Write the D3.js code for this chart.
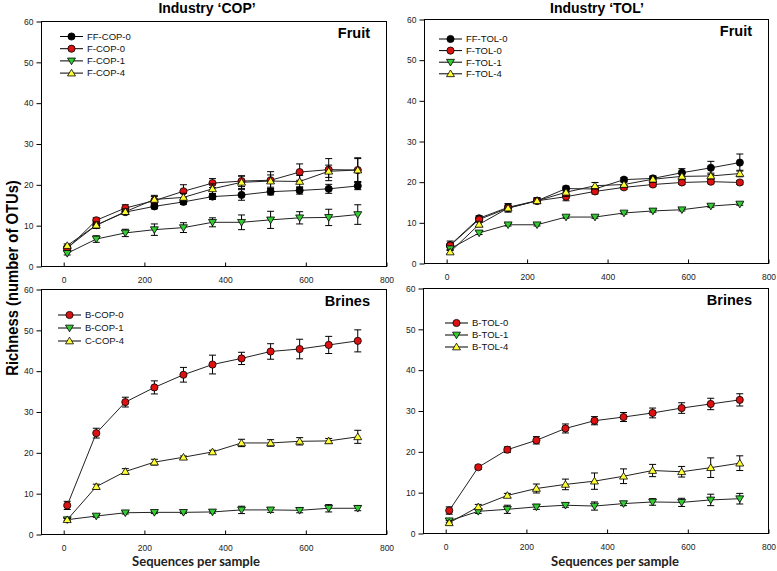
<!DOCTYPE html>
<html><head><meta charset="utf-8">
<script src="https://cdn.jsdelivr.net/npm/d3@7"></script>
<style>
body{margin:0;background:#fff;}
svg{display:block;font-family:Arial,"Liberation Sans",sans-serif;}
</style></head>
<body><svg id="c" width="777" height="571"></svg>
<script>
// ---- data ----
const seqs = [10, 82, 154, 226, 298, 370, 442, 514, 586, 658, 730];
const xTicks = [0, 200, 400, 600, 800];
const yTicks = [0, 10, 20, 30, 40, 50, 60];
const panelTitles = ["Industry \u2018COP\u2019", "Industry \u2018TOL\u2019"];
const panelTags = ["Fruit", "Fruit", "Brines", "Brines"];

// COP fruit
const ffCop0 = [4.5, 10.0, 13.2, 14.6, 15.7, 17.0, 17.4, 18.2, 18.5, 18.9, 19.6];
const ffCop0Err = [0.3, 0.5, 0.5, 0.6, 0.6, 0.7, 1.3, 0.8, 0.9, 1.1, 0.9];
const fCop0 = [4.2, 11.2, 14.2, 16.0, 18.3, 20.3, 20.8, 21.0, 23.0, 23.6, 23.5];
const fCop0Err = [0.5, 0.6, 0.8, 1.0, 1.6, 1.1, 1.3, 2.1, 2.0, 2.7, 3.0];
const fCop1 = [3.1, 6.6, 8.1, 8.9, 9.4, 10.7, 10.7, 11.3, 11.8, 11.9, 12.6];
const fCop1Err = [0.4, 0.8, 0.9, 1.4, 1.2, 1.1, 1.8, 2.1, 1.5, 2.0, 2.4];
const fCop4 = [5.0, 10.0, 13.3, 16.3, 16.8, 18.9, 20.5, 20.8, 20.7, 23.2, 23.5];
const fCop4Err = [0.4, 0.8, 0.7, 1.0, 1.0, 1.2, 1.5, 1.5, 1.5, 1.5, 2.8];

// TOL fruit
const ffTol0 = [4.4, 11.0, 13.7, 15.3, 18.3, 18.2, 20.5, 20.8, 22.2, 23.4, 24.7];
const ffTol0Err = [1.0, 0.6, 0.9, 0.7, 0.6, 0.6, 0.5, 0.6, 1.0, 1.6, 2.1];
const fTol0 = [4.3, 10.7, 13.5, 15.3, 16.3, 17.6, 18.6, 19.3, 19.8, 20.0, 19.8];
const fTol0Err = [0.4, 0.5, 0.6, 0.6, 1.0, 0.6, 0.5, 0.5, 0.5, 0.5, 0.5];
const fTol1 = [3.5, 7.4, 9.4, 9.4, 11.3, 11.3, 12.3, 12.8, 13.1, 14.0, 14.5];
const fTol1Err = [0.3, 0.4, 0.3, 0.3, 0.3, 0.3, 0.3, 0.3, 0.3, 0.3, 0.3];
const fTol4 = [2.7, 9.5, 13.5, 15.3, 17.4, 19.0, 19.3, 20.6, 21.3, 21.4, 22.0];
const fTol4Err = [0.4, 0.6, 1.0, 0.7, 1.0, 0.8, 0.6, 0.7, 0.8, 0.7, 0.8];

// COP brines
const bCop0 = [7.0, 24.7, 32.3, 35.9, 39.0, 41.5, 43.0, 44.7, 45.3, 46.3, 47.3];
const bCop0Err = [1.0, 1.2, 1.2, 1.6, 1.8, 2.3, 1.5, 1.9, 2.4, 2.1, 2.7];
const bCop1 = [3.5, 4.4, 5.2, 5.3, 5.3, 5.4, 5.9, 5.9, 5.8, 6.3, 6.3];
const bCop1Err = [0.3, 0.3, 0.3, 0.3, 0.3, 0.3, 0.9, 0.6, 0.6, 0.9, 0.6];
const cCop4 = [3.5, 11.6, 15.3, 17.6, 18.8, 20.1, 22.3, 22.3, 22.7, 22.8, 23.8];
const cCop4Err = [0.3, 0.6, 0.7, 0.7, 0.3, 0.4, 0.9, 0.8, 0.9, 0.6, 1.6];

// TOL brines
const bTol0 = [5.5, 16.1, 20.4, 22.7, 25.6, 27.5, 28.4, 29.4, 30.6, 31.6, 32.6];
const bTol0Err = [0.9, 0.5, 0.7, 0.9, 1.1, 1.0, 1.1, 1.2, 1.3, 1.4, 1.5];
const bTol1 = [3.0, 5.3, 5.8, 6.4, 6.8, 6.6, 7.2, 7.6, 7.5, 8.1, 8.4];
const bTol1Err = [0.5, 0.5, 1.0, 0.6, 0.5, 1.0, 0.5, 0.8, 1.0, 1.4, 1.3];
const bTol4 = [2.5, 6.4, 9.2, 10.9, 11.9, 12.7, 13.9, 15.3, 15.0, 16.0, 17.1];
const bTol4Err = [0.5, 0.6, 0.5, 1.1, 1.3, 2.0, 1.8, 1.5, 1.3, 2.4, 1.8];

// ---- styles ----
const styles = {
  black: {fill: "#000000", shape: "circle"},
  red: {fill: "#dd1111", shape: "circle"},
  green: {fill: "#33cc33", shape: "down"},
  yellow: {fill: "#ffff33", shape: "up"}
};

const panels = [
  {box: [41, 386, 21, 266], tag: panelTags[0], legend: [60, 36.5, 12.2], series: [
    {name: "FF-COP-0", v: ffCop0, e: ffCop0Err, s: "black"},
    {name: "F-COP-0", v: fCop0, e: fCop0Err, s: "red"},
    {name: "F-COP-1", v: fCop1, e: fCop1Err, s: "green"},
    {name: "F-COP-4", v: fCop4, e: fCop4Err, s: "yellow"}]},
  {box: [424, 768, 19, 263], tag: panelTags[1], legend: [439, 39, 11.6], series: [
    {name: "FF-TOL-0", v: ffTol0, e: ffTol0Err, s: "black"},
    {name: "F-TOL-0", v: fTol0, e: fTol0Err, s: "red"},
    {name: "F-TOL-1", v: fTol1, e: fTol1Err, s: "green"},
    {name: "F-TOL-4", v: fTol4, e: fTol4Err, s: "yellow"}]},
  {box: [41, 386, 289, 534], tag: panelTags[2], legend: [58, 315, 13], series: [
    {name: "B-COP-0", v: bCop0, e: bCop0Err, s: "red"},
    {name: "B-COP-1", v: bCop1, e: bCop1Err, s: "green"},
    {name: "C-COP-4", v: cCop4, e: cCop4Err, s: "yellow"}]},
  {box: [423, 768, 288, 533], tag: panelTags[3], legend: [445, 323, 12], series: [
    {name: "B-TOL-0", v: bTol0, e: bTol0Err, s: "red"},
    {name: "B-TOL-1", v: bTol1, e: bTol1Err, s: "green"},
    {name: "B-TOL-4", v: bTol4, e: bTol4Err, s: "yellow"}]}
];

const svg = d3.select("#c");

function marker(g, cx, cy, st) {
  const s = styles[st];
  if (s.shape === "circle") {
    g.append("circle").attr("cx", cx).attr("cy", cy).attr("r", 3.6)
      .attr("fill", s.fill).attr("stroke", "#000").attr("stroke-width", 0.8);
  } else {
    const h = 3.8;
    const pts = s.shape === "up"
      ? [[cx, cy - h], [cx + h * 1.05, cy + h * 0.75], [cx - h * 1.05, cy + h * 0.75]]
      : [[cx, cy + h], [cx + h * 1.05, cy - h * 0.75], [cx - h * 1.05, cy - h * 0.75]];
    g.append("polygon").attr("points", pts.map(p => p.join(",")).join(" "))
      .attr("fill", s.fill).attr("stroke", "#000").attr("stroke-width", 0.8);
  }
}

panels.forEach((p, i) => {
  const [l, r, t, b] = p.box;
  const x = d3.scaleLinear().domain([-55, 800]).range([l, r]);
  const y = d3.scaleLinear().domain([0, 60]).range([b, t]);
  const g = svg.append("g");

  // frame
  g.append("rect").attr("x", l + 0.5).attr("y", t + 0.5).attr("width", r - l).attr("height", b - t)
    .attr("fill", "none").attr("stroke", "#000").attr("stroke-width", 1);

  // axes
  const ya = g.append("g").attr("transform", `translate(${l + 0.5},0.5)`)
    .call(d3.axisLeft(y).tickValues(yTicks).tickSize(5).tickPadding(3));
  const xa = g.append("g").attr("transform", `translate(0.5,${b + 0.5})`)
    .call(d3.axisBottom(x).tickValues(xTicks).tickSize(-4).tickPadding(10));
  [ya, xa].forEach(a => {
    a.select(".domain").remove();
    a.selectAll("text").attr("font-size", 8.5).attr("fill", "#222")
      .attr("font-family", "Arial, 'Liberation Sans', sans-serif");
    a.selectAll("line").attr("stroke", "#000");
  });

  // series
  const line = d3.line().x((d, k) => x(seqs[k])).y(d => y(d));
  p.series.forEach(s => {
    const sg = g.append("g");
    s.v.forEach((v, k) => {
      const cx = x(seqs[k]);
      const y1 = y(v + s.e[k]), y2 = y(v - s.e[k]);
      sg.append("line").attr("x1", cx).attr("x2", cx).attr("y1", y1).attr("y2", y2)
        .attr("stroke", "#000").attr("stroke-width", 1);
      [y1, y2].forEach(yy => sg.append("line").attr("x1", cx - 3.5).attr("x2", cx + 3.5)
        .attr("y1", yy).attr("y2", yy).attr("stroke", "#000").attr("stroke-width", 1));
    });
    sg.append("path").datum(s.v).attr("d", line).attr("fill", "none")
      .attr("stroke", "#222").attr("stroke-width", 1);
    s.v.forEach((v, k) => marker(sg, x(seqs[k]), y(v), s.s));
  });

  // legend
  const [lx, ly, dy] = p.legend;
  p.series.forEach((s, k) => {
    const yy = ly + k * dy;
    g.append("line").attr("x1", lx).attr("x2", lx + 23).attr("y1", yy).attr("y2", yy)
      .attr("stroke", "#000").attr("stroke-width", 1);
    marker(g, lx + 11.5, yy, s.s);
    g.append("text").attr("x", lx + 27).attr("y", yy + 3.3).attr("font-size", 9.5)
      .attr("fill", "#111").text(s.name);
  });

  // tag
  g.append("text").attr("x", r - 16).attr("y", t + 17).attr("text-anchor", "end")
    .attr("font-size", 14.5).attr("font-weight", "bold").text(p.tag);
});

// titles
svg.append("text").attr("x", 207).attr("y", 13).attr("text-anchor", "middle")
  .attr("font-size", 14).attr("font-weight", "bold").text(panelTitles[0]);
svg.append("text").attr("x", 597).attr("y", 13).attr("text-anchor", "middle")
  .attr("font-size", 14).attr("font-weight", "bold").text(panelTitles[1]);

// y label
svg.append("text").attr("transform", "translate(18,278) rotate(-90) scale(1,1.12)").attr("text-anchor", "middle")
  .attr("font-size", 14.8).attr("font-weight", "bold").text("Richness (number of OTUs)");

// x labels
[196, 615].forEach(cx => svg.append("text").attr("x", cx).attr("y", 566).attr("text-anchor", "middle")
  .attr("font-family", "Lato, 'Open Sans', sans-serif").attr("font-size", 13).attr("font-weight", "bold")
  .attr("fill", "#222").text("Sequences per sample"));
</script></body></html>
